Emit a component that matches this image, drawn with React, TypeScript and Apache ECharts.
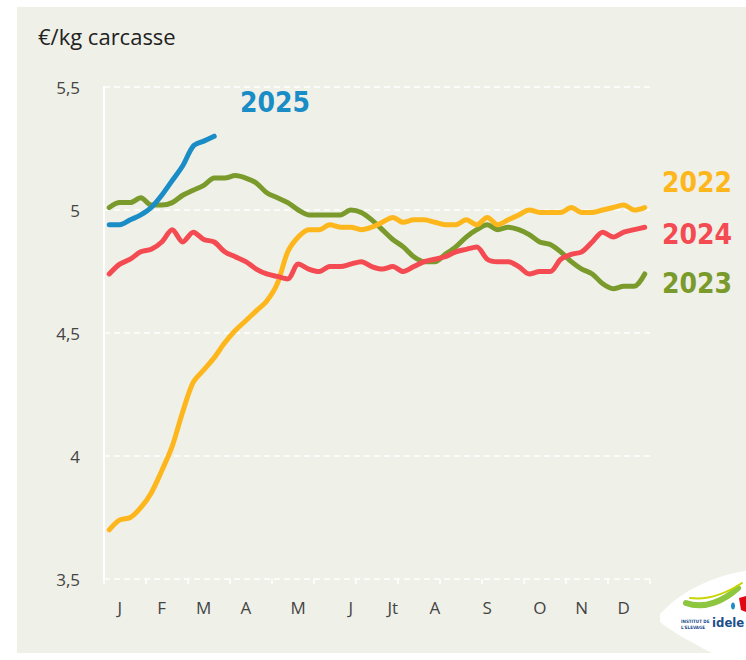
import React, { useEffect, useRef } from "react";
import * as echarts from "echarts";

const weeks = [
  "S1","S2","S3","S4","S5","S6","S7","S8","S9","S10","S11","S12","S13",
  "S14","S15","S16","S17","S18","S19","S20","S21","S22","S23","S24","S25","S26",
  "S27","S28","S29","S30","S31","S32","S33","S34","S35","S36","S37","S38","S39",
  "S40","S41","S42","S43","S44","S45","S46","S47","S48","S49","S50","S51","S52",
];
const monthLabels = ["J", "F", "M", "A", "M", "J", "Jt", "A", "S", "O", "N", "D"];
const monthWeekIdx = [1, 5, 9, 13, 18, 23, 27, 31, 36, 41, 45, 49];
const yTicks = [3.5, 4, 4.5, 5, 5.5];

const y2022 = [
  3.70, 3.74, 3.75, 3.79, 3.85, 3.94, 4.04, 4.18, 4.30, 4.35,
  4.40, 4.46, 4.51, 4.55, 4.59, 4.63, 4.70, 4.83, 4.89, 4.92,
  4.92, 4.94, 4.93, 4.93, 4.92, 4.93, 4.95, 4.97, 4.95, 4.96,
  4.96, 4.95, 4.94, 4.94, 4.96, 4.94, 4.97, 4.94, 4.96, 4.98,
  5.00, 4.99, 4.99, 4.99, 5.01, 4.99, 4.99, 5.00, 5.01, 5.02,
  5.00, 5.01,
];
const y2023 = [
  5.01, 5.03, 5.03, 5.05, 5.02, 5.02, 5.03, 5.06, 5.08, 5.10,
  5.13, 5.13, 5.14, 5.13, 5.11, 5.07, 5.05, 5.03, 5.00, 4.98,
  4.98, 4.98, 4.98, 5.00, 4.99, 4.96, 4.92, 4.88, 4.85, 4.81,
  4.79, 4.79, 4.82, 4.85, 4.89, 4.92, 4.94, 4.92, 4.93, 4.92,
  4.90, 4.87, 4.86, 4.83, 4.79, 4.76, 4.74, 4.70, 4.68, 4.69,
  4.69, 4.74,
];
const y2024 = [
  4.74, 4.78, 4.80, 4.83, 4.84, 4.87, 4.92, 4.87, 4.91, 4.88,
  4.87, 4.83, 4.81, 4.79, 4.76, 4.74, 4.73, 4.72, 4.78, 4.76,
  4.75, 4.77, 4.77, 4.78, 4.79, 4.77, 4.76, 4.77, 4.75, 4.77,
  4.79, 4.80, 4.81, 4.83, 4.84, 4.85, 4.80, 4.79, 4.79, 4.77,
  4.74, 4.75, 4.75, 4.80, 4.82, 4.83, 4.87, 4.91, 4.89, 4.91,
  4.92, 4.93,
];
const y2025 = [4.94, 4.94, 4.96, 4.98, 5.01, 5.06, 5.12, 5.18, 5.26, 5.28, 5.30];

const seriesNames = ["2023", "2022", "2024", "2025"];
const seriesData = [y2023, y2022, y2024, y2025];
const seriesColors = ["#7A9A2C", "#FDB71C", "#F44B53", "#1A8CC6"];

const FONT = "'Open Sans', 'DejaVu Sans', sans-serif";
const YEAR_FONT = "'DejaVu Sans Condensed', 'DejaVu Sans', sans-serif";

echarts.graphic.registerShape(
  "ideleLeaf",
  echarts.graphic.extendPath(
    "M0,44 C20,22 50,6 90,0 L90,92 L70,92 C45,80 15,64 0,52 Z",
    {}
  )
);

export default function App() {
  const ref = useRef<HTMLDivElement>(null);

  useEffect(() => {
    document.body.style.margin = "0";
    const chart = echarts.init(ref.current!, undefined, { renderer: "svg" });
    const option: any = {
      animation: false,
      backgroundColor: "#ffffff",
      grid: { left: 104, right: 96, top: 87, bottom: 81, containLabel: false },
      xAxis: {
        type: "category",
        data: weeks,
        boundaryGap: true,
        axisLine: { show: false },
        axisTick: {
          show: true,
          interval: 3,
          length: 5,
          lineStyle: { color: "#ffffff", width: 1.5 },
        },
        axisLabel: {
          interval: (idx: number) => monthWeekIdx.indexOf(idx) >= 0,
          formatter: (_v: string, idx: number) => {
            const k = monthWeekIdx.indexOf(idx);
            return k >= 0 ? monthLabels[k] : "";
          },
          color: "#444444",
          fontSize: 17,
          fontFamily: FONT,
          margin: 20,
        },
        splitLine: { show: false },
      },
      yAxis: {
        type: "value",
        min: yTicks[0],
        max: yTicks[yTicks.length - 1],
        interval: 0.5,
        axisLine: { show: true, lineStyle: { color: "#ffffff", width: 2 } },
        axisTick: { show: false },
        axisLabel: {
          formatter: (v: number) => String(v).replace(".", ","),
          color: "#444444",
          fontSize: 17,
          fontFamily: FONT,
          margin: 24,
        },
        splitLine: {
          show: true,
          lineStyle: { color: "#ffffff", width: 1.5, type: [6, 4] },
        },
      },
      series: seriesNames.map((name, i) => ({
        name,
        type: "line",
        data: seriesData[i],
        smooth: 0.3,
        showSymbol: false,
        symbol: "none",
        z: 3 + i,
        lineStyle: { color: seriesColors[i], width: 5, cap: "round", join: "round" },
      })),
      graphic: [
        {
          type: "rect",
          z: -10,
          silent: true,
          shape: { x: 17, y: 7, width: 729, height: 646 },
          style: { fill: "#EFF0E8" },
        },
        {
          type: "text",
          left: 38,
          top: 25,
          style: { text: "€/kg carcasse", fill: "#222222", fontSize: 22, fontFamily: FONT },
        },
        {
          type: "text",
          x: 240,
          y: 102,
          style: {
            text: "2025", fill: seriesColors[3], fontSize: 28, fontWeight: "bold",
            fontFamily: YEAR_FONT, verticalAlign: "middle",
          },
        },
        {
          type: "text",
          x: 662,
          y: 182,
          style: {
            text: "2022", fill: seriesColors[1], fontSize: 28, fontWeight: "bold",
            fontFamily: YEAR_FONT, verticalAlign: "middle",
          },
        },
        {
          type: "text",
          x: 662,
          y: 234,
          style: {
            text: "2024", fill: seriesColors[2], fontSize: 28, fontWeight: "bold",
            fontFamily: YEAR_FONT, verticalAlign: "middle",
          },
        },
        {
          type: "text",
          x: 662,
          y: 283,
          style: {
            text: "2023", fill: seriesColors[0], fontSize: 28, fontWeight: "bold",
            fontFamily: YEAR_FONT, verticalAlign: "middle",
          },
        },
        {
          type: "ideleLeaf",
          x: 660,
          y: 570,
          silent: true,
          style: { fill: "#ffffff" },
        },
        {
          type: "bezierCurve",
          silent: true,
          shape: { x1: 686, y1: 603, cpx1: 705, cpy1: 610, cpx2: 725, cpy2: 600, x2: 738, y2: 588 },
          style: { stroke: "#8DC63F", lineWidth: 6, fill: "none", lineCap: "round" },
        },
        {
          type: "bezierCurve",
          silent: true,
          shape: { x1: 690, y1: 598, cpx1: 705, cpy1: 600, cpx2: 722, cpy2: 596, x2: 742, y2: 583 },
          style: { stroke: "#C8D400", lineWidth: 2, fill: "none", lineCap: "round" },
        },
        {
          type: "ellipse",
          silent: true,
          shape: { cx: 733, cy: 606, rx: 2, ry: 3.5 },
          style: { fill: "#1A8CC6" },
        },
        {
          type: "polygon",
          silent: true,
          shape: { points: [[739, 598], [746, 596], [746, 612], [741, 610]] },
          style: { fill: "#E30613" },
        },
        {
          type: "text",
          x: 681,
          y: 618,
          silent: true,
          style: { text: "INSTITUT DE\nL'ELEVAGE", fill: "#1A4E8C", fontSize: 4.5, fontWeight: "bold", fontFamily: YEAR_FONT, lineHeight: 6 },
        },
        {
          type: "text",
          x: 712,
          y: 616,
          silent: true,
          style: { text: "idele", fill: "#1A4E8C", fontSize: 13, fontWeight: "bold", fontFamily: YEAR_FONT },
        },
      ],
    };
    chart.setOption(option);
    return () => chart.dispose();
  }, []);

  return <div ref={ref} style={{ width: 746, height: 660 }} />;
}
